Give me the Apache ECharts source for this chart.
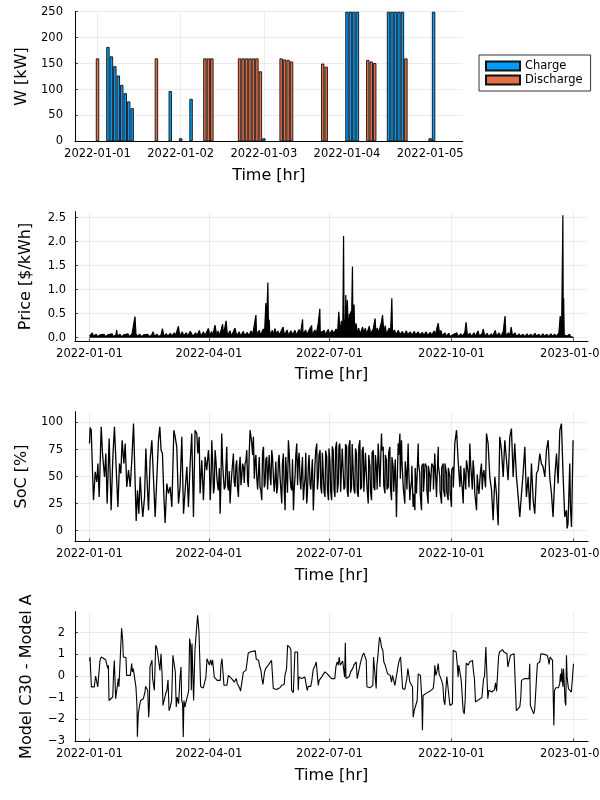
<!DOCTYPE html>
<html><head><meta charset="utf-8">
<script src="https://cdn.jsdelivr.net/npm/echarts@6/dist/echarts.min.js"></script>
<style>html,body{margin:0;padding:0;background:#fff}#c{width:600px;height:800px}</style>
</head><body><div id="c"></div>
<script>
// ---- tick labels ----
const dayTickLabels = ['2022-01-01','2022-01-02','2022-01-03','2022-01-04','2022-01-05'];
const dayTickHours = [0,24,48,72,96];
const yearTickLabels = ['2022-01-01','2022-04-01','2022-07-01','2022-10-01','2023-01-01'];
const yearTickDays = [0,90,181,273,365];
const wTicks = [0,50,100,150,200,250];
const priceTicks = [0,0.5,1,1.5,2,2.5];
const socTicks = [0,25,50,75,100];
const diffTicks = [-3,-2,-1,0,1,2];

// ---- series values: [hour since 2022-01-01, kW] ----
const chargeData = [[3,182],[4,164],[5,145],[6,127],[7,109],[8,93],[9,77],[10,64],[21,97],[24,6],[27,82],[48,6],
  [72,250],[73,250],[74,250],[75,250],[84,250],[85,250],[86,250],[87,250],[88,250],[96,6],[97,250]];
const dischargeData = [[0,160],[17,160],[31,160],[32,160],[33,160],[41,160],[42,160],[43,160],[44,160],[45,160],[46,160],[47,135],
  [53,160],[54,158],[55,157],[56,154],[65,150],[66,144],[78,157],[79,154],[80,151],[89,160]];

// ---- [day of year, $/kWh] ----
const priceData = [[0,0.03],[1,0.07],[2,0.1],[3,0.03],[5,0.07],[6,0.02],[8,0.06],[9,0.03],[11,0.07],[12,0.02],[14,0.06],[15,0.03],[17,0.08],[18,0.02],[20,0.06],[20.5,0.16],[21,0.03],[23,0.07],[24,0.02],[26,0.06],[27,0.03],[29,0.08],[30,0.02],[32,0.07],[33,0.04],[34.3,0.44],[35,0.08],[36,0.03],[38,0.07],[39,0.02],[41,0.06],[42,0.03],[44,0.07],[45,0.02],[47,0.06],[48,0.12],[49,0.03],[51,0.07],[52,0.02],[54,0.06],[55,0.19],[56,0.03],[58,0.08],[59,0.03],
[61,0.09],[62,0.03],[64,0.1],[65,0.04],[67,0.24],[68,0.03],[70,0.12],[71,0.04],[73,0.1],[74,0.03],[76,0.13],[77,0.15],[78,0.03],[80,0.1],[81,0.04],[82.8,0.15],[84,0.03],[86,0.12],[87,0.04],[89.6,0.19],[91,0.03],[92,0.13],[93,0.04],[94.6,0.26],[96,0.04],[97,0.14],[98,0.03],[100.4,0.28],[101,0.05],[103,0.35],[104,0.04],[106,0.14],[107,0.03],[109.7,0.2],[111,0.04],[113,0.12],[114,0.03],[116,0.13],[117,0.04],[119,0.11],[120,0.04],
[122,0.14],[123,0.05],[125.5,0.47],[126,0.06],[128,0.15],[129,0.05],[131,0.18],[132,0.1],[133,0.72],[133.5,0.2],[134.5,1.15],[135,0.15],[135.5,0.37],[136,0.06],[138,0.15],[139,0.05],[139.8,0.19],[141,0.06],[142,0.14],[143,0.05],[146,0.22],[147,0.05],[149,0.16],[150,0.05],[152,0.14],[153,0.06],[155,0.15],[156,0.05],[158,0.17],[159,0.06],[160.7,0.38],[161,0.07],[163,0.16],[164,0.06],[166,0.18],[167.5,0.25],[168,0.06],[170,0.16],[171,0.07],[172.5,0.3],[173.7,0.6],[174,0.1],[175,0.07],[177,0.15],[178,0.06],[180,0.17],
[181,0.07],[183,0.16],[184,0.08],[186,0.18],[187,0.07],[188,0.54],[189,0.1],[190,0.35],[191,0.08],[191.6,2.12],[192,0.1],[193,0.4],[193.3,0.89],[194,0.1],[194.5,0.78],[195,0.12],[196,0.5],[196.5,0.1],[197,0.55],[197.5,0.15],[198.3,1.48],[198.7,0.1],[199.5,0.69],[200,0.12],[201,0.3],[202,0.08],[203,0.2],[204,0.07],[206,0.22],[207,0.08],[208,0.2],[209,0.07],[211,0.24],[212,0.08],[214,0.18],[215.4,0.4],[216,0.08],[217,0.2],[218,0.1],[220,0.3],[221,0.47],[222,0.1],[223,0.25],[224,0.07],[226,0.2],[227,0.08],[228,0.82],[228.5,0.1],[230,0.16],[231,0.06],[233,0.15],[234,0.06],[236,0.13],[237,0.05],[239,0.14],[240,0.06],[242,0.12],[243,0.05],[245,0.13],[246,0.06],[248,0.12],[249,0.05],[251,0.11],[252,0.05],[254,0.12],[255,0.04],[257,0.11],[258,0.05],[260,0.14],[261,0.06],[262,0.2],[263,0.3],[264,0.08],[265,0.15],[266,0.04],[268,0.1],[269,0.03],[271,0.09],[272,0.02],
[274,0.06],[275,0.03],[277,0.1],[278,0.02],[280,0.08],[281,0.03],[283,0.1],[284,0.32],[285,0.04],[287,0.09],[288,0.02],[290,0.1],[291,0.03],[293,0.14],[294,0.03],[296,0.08],[297,0.18],[298,0.03],[300,0.09],[301,0.02],[303,0.08],[304,0.03],[306,0.15],[307,0.03],[309,0.1],[310,0.02],[312,0.12],[313.4,0.45],[314,0.04],[316,0.1],[317,0.03],[318,0.22],[319,0.04],[321,0.1],[322,0.02],[324,0.08],[325,0.03],[327,0.07],[328,0.02],[330,0.08],[331,0.03],[333,0.07],[334,0.02],[336,0.09],[337,0.03],[339,0.07],[340,0.02],[342,0.08],[343,0.03],[345,0.07],[346,0.02],[348,0.08],[349,0.03],[351,0.07],[352,0.02],[354,0.1],[355,0.45],[356,0.05],[357,2.55],[357.3,0.1],[357.6,0.82],[358,0.06],[359,0.08],[360,0.03],[362,0.07],[363,0.02],[364,0.05],[365,0.0]];

// ---- [day of year, SoC %] ----
const socData = [[0,80.6],[0.5,95.4],[1.3,92.9],[2.3,52.8],[3,28.1],[4.3,54.3],[5.5,45],[6.3,62],[7.3,31.2],[8.8,96],[9.8,71.3],[11.3,49.7],[12.3,71.3],[13.3,25],[14.8,85.2],[16.3,18.8],[17.6,68.2],[18.8,96],[20.4,49.7],[21.4,21.9],[22.6,62],[23.6,52.8],[24.6,83.6],[25.9,62],[26.9,80.6],[28.1,40.4],[29.4,55.9],[30.7,40.4],[31.9,65.1],[33.2,99],[33.9,97.5],[35.2,9],[36.2,37.3],[37.2,15.7],[38.2,49.7],[39.2,28.1],[40.2,12.7],[41.5,31.2],[42.5,75.9],[43.5,43.5],[44.5,18.8],[45.7,65.1],[47,83.6],[48.2,49.7],[49.5,12.7],[50.8,49.7],[52,83.6],[53,96],[54,74.4],[55,71.3],[56,34.3],[57,7],[58.3,43.5],[59.5,34.3],[60.8,40.4],[62.1,21.9],[63.6,92.9],[64.6,86.7],[65.8,77.5],[67.1,25],[68.3,40.4],[69.6,86.7],[70.9,15.7],[72.1,37.3],[73.4,59],[74.6,21.9],[75.9,62],[77.1,89.8],[78.4,12.7],[79.6,92.9],[80.9,89.8],[81.7,71.3],[82.7,86.7],[83.4,34.3],[84.7,65.1],[85.9,28.1],[87.2,68.2],[88.4,55.9],[89.7,74.4],[91,28.1],[92.2,83.6],[93.5,34.3],[94.7,74.4],[96,49.7],[97.2,37.3],[98.5,15.7],[99.7,89.8],[101,49.7],[102.3,40.4],[103.5,77.5],[104.8,37.3],[106,25],[107.3,52.8],[108.5,71.3],[109.8,40.4],[111,65.1],[112.3,31.2],[113.6,68.2],[114.8,49.7],[116.1,59],[117.3,62],[118.6,74.4],[119.8,40.4],[121.1,92.9],[122.4,80.6],[123.6,86.7],[124.9,65.1],[126.1,49.7],[127.4,52.8],[128.6,40.4],[129.9,28.1],[131.2,77.5],[132.4,43.5],[133.7,68.2],[134.9,55.9],[136.2,49.7],[137.4,74.4],[138.7,49.7],[139.9,46.6],[141.2,34.3],[142.5,65.1],[143.7,49.7],[145,25],[146.2,71.3],[147.5,18.8],[148.7,49.7],[150,83.6],[151.3,49.7],[152.5,37.3],[153.8,18.8],[155,49.7],[156.3,80.6],[157.5,65.1],[158.8,46.6],[160,55.9],[161.3,28.1],[162.6,49.7],[163.8,25],[165.1,62],[166.3,43.5],[167.6,55.9],[168.8,18.8],[170.1,62],[171.4,80.6],[172.6,49.7],[173.9,74.4],[175.1,34.3],[176.4,71.3],[177.6,31.2],[178.9,68.2],[180.2,28.1],
[181.3,65.1],[182.6,28.1],[183.8,74.4],[185.1,31.2],[186.3,82.1],[187.6,43.5],[188.8,80.6],[190.1,37.3],[191.4,74.4],[192.6,40.4],[193.9,77.5],[195.1,31.2],[196.4,83.6],[197.6,40.4],[198.9,80.6],[200.1,34.3],[201.4,71.3],[202.7,31.2],[203.9,83.6],[205.2,40.4],[206.4,77.5],[207.7,34.3],[208.9,49.7],[210.2,25],[211.5,59],[212.7,28.1],[214,74.4],[215.2,37.3],[216.5,55.9],[217.7,80.6],[219,40.4],[220.2,89.8],[221.5,77.5],[222.8,34.3],[224,65.1],[225.3,40.4],[226.5,77.5],[227.8,28.1],[229,59],[230.3,34.3],[231.5,12.7],[232.8,80.6],[234.1,89.8],[235.3,83.6],[236.6,40.4],[237.8,25],[239.1,49.7],[240.3,80.6],[241.6,28.1],[242.9,46.6],[244.1,21.9],[245.4,18.8],[246.6,34.3],[247.9,80.6],[249.1,52.8],[250.4,18.8],[251.7,62],[252.9,34.3],[254.2,59],[255.4,25],[256.7,49.7],[257.9,34.3],[259.2,59],[260.4,71.3],[261.7,31.2],[263,77.5],[264.2,49.7],[265.5,25],[266.7,62],[268,31.2],[269.2,52.8],[270.5,28.1],[271.8,49.7],[273,21.9],[274.3,59],[275.5,80.6],[276.8,92.9],[278,65.1],[279.3,40.4],[280.5,46.6],[281.8,25],[283.1,49.7],[284.3,65.1],[285.6,52.8],[286.8,80.6],[288.1,49.7],[289.3,65.1],[290.6,34.3],[291.9,18.8],[293.1,40.4],[294.4,46.6],[295.6,62],[296.9,52.8],[298.1,55.9],[299.4,89.8],[300.6,80.6],[301.9,49.7],[303.2,37.3],[304.4,9.6],[305.7,49.7],[306.9,34.3],[308.2,4.9],[309.4,86.7],[310.7,74.4],[312,49.7],[313.2,83.6],[314.5,65.1],[315.7,46.6],[317,86.7],[318.2,94.4],[319.5,49.7],[320.7,80.6],[322,49.7],[323.3,31.2],[324.5,12.7],[325.8,34.3],[327,52.8],[328.3,77.5],[329.5,31.2],[330.8,49.7],[332.1,18.8],[333.3,62],[334.6,28.1],[335.8,15.7],[337.1,52.8],[338.3,55.9],[339.6,71.3],[340.8,62],[342.1,59],[343.4,49.7],[344.6,74.4],[345.9,83.6],[347.1,49.7],[348.4,34.3],[349.6,12.7],[350.9,49.7],[352.2,71.3],[353.4,43.5],[354.7,92.9],[355.9,99],[357.2,49.7],[358.4,12.7],[359.7,18.8],[360.2,2],[360.9,6.5],[362.2,62],[362.7,21.9],[363.5,3.4],[364.7,83.6]];
// additional readings of the dense hourly band (spring-summer)
const socDense = [[90.4,60],[91.6,45],[92.9,62],[94.1,40],[95.4,64],[96.6,42],[97.9,58],[99.1,44],[100.4,62],[101.6,38],[102.9,60],[104.1,42],[105.4,55],[106.6,40],[107.9,62],[109.1,45],[110.4,60],[111.6,40],[112.9,58],[114.2,42],[115.4,62],[116.7,44],[117.9,64],[119.2,46],[120.4,70],[123,70],[124.3,48],
[125.5,70],[126.8,38],[128,68],[129.3,36],[130.5,72],[131.8,40],[133,66],[134.3,38],[135.5,70],[136.8,42],[138,68],[139.3,36],[140.5,64],[141.8,40],[143,70],[144.3,38],[145.5,62],[146.8,40],[148,68],[149.3,35],[150.6,72],[151.9,40],[153.1,66],[154.4,38],[155.6,70],[156.9,42],[158.1,72],[159.4,38],[160.6,68],[161.9,40],[163.1,72],[164.4,36],[165.6,70],[166.9,38],[168.1,66],[169.4,40],[170.6,74],[171.9,38],[173.1,70],[174.4,40],[175.6,72],[176.9,36],[178.1,74],[179.4,38],[180.6,76],[181.9,36],[183.1,78],[184.4,38],[185.6,76],[186.9,35],[188.1,78],[189.4,36],[190.6,76],[191.9,38],[193.1,80],[194.4,36],[195.6,78],[196.9,35],[198.1,80],[199.4,38],[200.6,76],[201.9,36],[203.1,78],[204.4,38],[205.6,74],[206.9,36],[208.1,72],[209.4,38],[210.6,70],[211.9,36],[213.1,72],[214.4,40],[215.6,70],[216.9,38],[218.1,72],[219.4,40],[220.6,74],[221.9,42],[223.1,70],[224.4,38],[225.6,72],[226.9,40],[228.1,68],[229.4,36],[230.6,66],[231.9,38],[233.1,70],[234.4,48],[235.6,66],[236.9,36],[238.1,64],[239.4,38],[240.6,62],[241.9,36],[243.1,60],[244.4,34],[245.6,58],[246.9,36],[248.1,62],[249.4,34],[250.6,60],[251.9,36],[253.1,62],[254.4,38],[255.6,60],[256.9,36],[258.1,62],[259.4,38],[260.6,64],[261.9,40],[263.1,60],[264.4,36],[265.6,58],[266.9,38],[268.1,62],[269.4,36],[270.6,58],[271.9,36],[273.1,56],[274.4,40],
[279.9,60],[281.2,38],[282.4,58],[283.7,38],[284.9,60],[286.2,40],[287.4,62],[288.7,38],[289.9,56],[291.2,36],[292.4,52],[293.7,34],[294.9,55],[296.2,38],[297.4,56],[298.7,40]];

// ---- [day of year, Model C30 - Model A] ----
const diffData = [[0,0.7],[0.4,0.88],[0.9,0.88],[1.4,-0.5],[3.6,-0.5],[4.6,0],[5.4,-0.05],[6.2,-0.5],[7.4,-0.5],[7.9,0.72],[8.9,0.88],[10.4,0.8],[12.2,0.75],[13.2,0.72],[13.7,0.35],[14.2,0.5],[14.7,-1.13],[16.2,-1.05],[17.5,-0.97],[18.2,0.2],[18.7,0.72],[19.2,-0.12],[19.7,-1.05],[20.7,-1.0],[21.2,-1.05],[21.7,-0.12],[22.2,-0.5],[22.7,0.2],[23.5,0.2],[24.2,2.2],[25,1.65],[25.5,0.88],[26.5,0.85],[27.5,0.85],[28,0.03],[29.3,0],[30.8,0.03],[31.8,0.57],[32.3,0.19],[33,0.34],[33.8,0.26],[34.3,-0.2],[35,-0.5],[35.8,-1.4],[36.1,-2.8],[36.8,-1.75],[37.6,-1.43],[38.6,-1.13],[39.3,-1.05],[40.6,-1.05],[41.8,-0.75],[42.3,-0.48],[43,-0.48],[43.9,-0.66],[44.6,-1.9],[45.1,-1.43],[45.6,0.42],[46.4,0.5],[47.1,0.73],[47.6,-0.12],[48.1,-0.12],[48.9,-0.66],[49.9,1.42],[50.9,1.27],[51.9,1.19],[53.1,0.26],[53.9,1.03],[54.7,0.1],[55.4,-1.36],[56.4,-1.28],[57.4,-0.82],[58.4,-0.66],[59.2,-0.17],[60,-1.6],[60.9,-1.43],[61.9,-1.13],[62.9,0.96],[63.9,1.03],[64.7,0.19],[65.4,-1.43],[66.2,-0.97],[67.2,-1.28],[68.2,-0.12],[69,0.42],[69.5,-1.13],[70.2,-1.28],[70.7,-2.82],[71.2,-1.13],[72,-1.43],[73,-1.13],[74,-0.9],[74.8,-0.66],[75.5,1.73],[76.3,1.34],[76.8,-0.66],[77.3,1.5],[77.8,1.57],[78.5,-1.13],[79.5,1.19],[80.5,1.19],[81.5,2.8],[82.5,2.11],[83.3,2.19],[83.8,-0.5],[85.8,-0.55],[87,-0.48],[87.8,-0.05],[88.6,0.8],[89.6,0.72],[90.4,0.5],[91.3,0.75],[92.1,0.5],[92.8,0.75],[93.3,0.75],[94.1,-0.05],[94.6,-0.12],[95.4,-0.12],[96.3,-0.2],[97.1,-0.28],[97.8,-0.23],[98.6,-0.2],[99.1,0.5],[99.9,0.8],[100.6,0.72],[101.4,-0.43],[102.6,-0.48],[103.6,-0.43],[104.7,0.03],[105.4,0.1],[106.2,-0.05],[107.2,-0.12],[108.2,-0.2],[109.2,-0.28],[109.9,-0.2],[110.7,-0.12],[111.4,-0.35],[112.2,-0.43],[113.2,-0.55],[113.9,-0.7],[114.7,-0.7],[115.5,-0.05],[116,0.18],[116.7,0.26],[118,0.26],[118.7,0.57],[119.7,1.06],[121,1.11],[122.2,1.13],[123.7,1.16],[125,1.16],[125.8,0.77],[126.8,0.73],[127.5,0.73],[128.3,0.45],[129.3,0.26],[130,-0.12],[130.8,-0.39],[131.3,-0.39],[132,0.19],[132.8,0.34],[133.5,0.42],[134.8,0.5],[136,0.57],[137.3,0.72],[138,0.72],[138.6,-0.58],[139.8,-0.62],[141,-0.62],[142.3,-0.55],[143.6,-0.54],[144.9,-0.43],[145.8,-0.35],[146.8,-0.39],[147.4,0.03],[148.1,0.03],[148.6,0.34],[149.4,1.42],[150.4,1.34],[151.1,1.31],[151.9,1.19],[152.4,-0.66],[153.7,-0.77],[154.2,-0.74],[154.9,1.11],[156.2,1.03],[156.9,1.11],[157.4,-0.66],[157.9,-0.05],[158.7,-0.08],[159.9,-0.12],[161.2,-0.12],[162.4,-0.05],[163.4,-0.12],[164.2,-0.66],[165,-0.48],[166,-0.43],[166.8,-0.48],[167.5,-0.28],[168,-0.23],[168.7,0.29],[169.5,0.29],[170.2,0.5],[171,0.65],[171.7,0.57],[172.5,-0.43],[173.2,-0.2],[174.2,-0.12],[175,-0.05],[176.3,-0.02],[177.5,0.19],[178.3,0.19],[179.3,0.1],[180.6,0.08],
[182.5,-0.12],[183.8,-0.2],[185,-0.12],[185.8,0.42],[186.8,0.65],[187.6,0.5],[188.3,0.88],[189.1,0.5],[190.1,0.57],[190.9,0.69],[191.6,0.34],[192.4,-0.05],[192.9,1.53],[193.4,-0.12],[193.9,-0.2],[194.9,-0.12],[195.9,-0.02],[196.9,0.19],[197.6,0.19],[198.4,0.34],[199.4,0.5],[200.4,0.57],[201.1,0.65],[201.9,-0.12],[202.6,-0.05],[203.4,-0.05],[204.2,0.57],[204.9,0.65],[205.9,0.96],[206.9,1.06],[207.9,1.03],[208.7,0.73],[209.2,-0.5],[210.4,-0.54],[211.7,-0.54],[212.9,-0.48],[213.7,-0.43],[214.2,0.88],[215.2,0.88],[215.7,-0.2],[216.2,-0.58],[216.7,0.5],[217.2,0.72],[218,0.65],[218.7,1.8],[219.5,1.62],[220.2,1.34],[221.2,1.19],[222,0.65],[223,0.5],[224,0.45],[224.8,0.1],[225.8,0.03],[226.8,0.03],[227.8,-0.28],[228.5,0.03],[229.5,-0.05],[230.3,-0.43],[231,-0.5],[232,0.19],[232.8,0.5],[233.6,0.72],[234.6,0.88],[235.6,0.88],[236.1,-0.58],[236.8,-0.62],[237.8,-0.62],[238.6,-0.58],[239.3,-0.12],[240.1,0.34],[240.8,0.38],[241.6,-0.28],[242.6,-0.28],[243.6,-0.5],[244.1,-1.9],[244.9,-1.6],[245.6,-1.67],[246.4,-1.28],[247.1,-1.13],[247.9,0.1],[248.6,0.1],[249.6,0.03],[250.6,-1.05],[251.1,-2.5],[251.6,-0.9],[252.9,-0.85],[254.1,-0.79],[255.4,-0.74],[256.7,-0.7],[257.9,-0.66],[259.2,-0.58],[259.9,-0.2],[260.4,0.5],[261.2,0.03],[262,0.19],[263,0.57],[263.7,0.1],[264.5,0.03],[265.5,-0.2],[266.5,-0.43],[267.2,-1.13],[268,-1.33],[268.7,-0.66],[269.5,-0.02],[270.7,-0.02],[271.8,-1.36],[272.8,-1.36],[273.7,-1.28],[274.3,1.19],[275.3,1.16],[276.5,1.11],[277.5,0.42],[278,-0.05],[278.5,0.5],[279.3,0.42],[280.3,-0.17],[281,-0.2],[281.8,-1.6],[282.6,-1.75],[283.3,-1.13],[284.1,0.6],[284.8,0.6],[285.6,0.5],[286.6,0.65],[287.8,0.65],[288.8,0.72],[289.6,0.19],[290.3,-0.12],[291.1,-1.2],[292.1,-1.13],[293.4,-1.1],[294.6,-1.05],[295.9,-1.0],[296.6,-0.94],[297.2,-0.12],[297.9,-0.02],[298.9,1.34],[299.9,1.27],[300.4,-1.05],[301.2,-0.66],[302.2,-0.7],[303.4,-0.74],[304.4,-0.66],[305.4,-0.63],[306.2,-0.32],[307,-0.7],[307.7,-0.66],[308.5,0.88],[309.2,1.11],[310.2,1.19],[311.5,1.22],[312.5,1.11],[313.8,1.06],[314.8,1.03],[315.5,0.42],[316.5,0.34],[317.5,0.96],[319,0.96],[320.2,1.03],[321.2,0.96],[321.9,-1.6],[323.2,-1.62],[324.5,-1.43],[325.3,-0.97],[325.8,-0.2],[326.5,-0.12],[327.8,-0.12],[329.5,-0.12],[330.8,-0.05],[331.5,-0.12],[332,0.57],[332.5,-1.36],[333.3,-1.36],[334,-1.6],[335,-1.75],[335.8,-1.51],[336.6,-1.51],[337.1,-0.12],[337.8,0.57],[338.6,0.65],[339.6,0.65],[340.4,1.03],[341.6,1.03],[342.9,1.0],[344.1,0.96],[345.1,0.96],[346.1,0.75],[346.6,0.54],[347.4,0.88],[348.4,0.88],[349.2,0.72],[349.7,-0.9],[350.2,-2.28],[350.7,-0.66],[351.7,-0.54],[352.7,-0.5],[353.7,-0.54],[354.6,-0.35],[355.2,0.1],[355.7,-0.28],[356.2,0.34],[357,-0.5],[357.5,0.34],[358.2,-0.58],[358.7,-1.2],[359.2,-1.36],[359.7,0.96],[360.2,-0.05],[361.2,-0.58],[362.2,-0.66],[363.4,-0.74],[364.2,-0.66],[365,0.57]];

const FONT = 'DejaVu Sans';
const tops = [11.7, 211.6, 411.7, 611.7];
const H = 129.7;
const socAll = socData.concat(socDense).sort((a, b) => a[0] - b[0]);

function lookup(ticks, labels, v) {
  for (let i = 0; i < ticks.length; i++) if (Math.abs(ticks[i] - v) < 1e-6) return labels[i];
  return '';
}
function fmtNum(v, d) {
  const s = d ? Math.abs(v).toFixed(d) : String(Math.abs(v));
  return (v < 0 ? '\u2212' : '') + s;
}
const gridLine = { show: true, lineStyle: { color: 'rgba(0,0,0,0.1)', width: 0.7 } };
const axisLine = { show: true, onZero: false, lineStyle: { color: '#000', width: 1 } };
const nameStyle = { fontFamily: FONT, fontSize: 16, color: '#000' };
const labelStyle = { fontFamily: FONT, fontSize: 11.5, color: '#000' };

function xAx(i, min, max, ticks, labels) {
  return {
    type: 'value', gridIndex: i, min: min, max: max,
    name: 'Time [hr]', nameLocation: 'middle', nameGap: 26, nameTextStyle: nameStyle,
    axisLine: axisLine,
    axisTick: { show: true, inside: true, length: 3, customValues: ticks, lineStyle: { color: '#000', width: 0.7 } },
    axisLabel: Object.assign({ customValues: ticks, margin: 7, formatter: v => lookup(ticks, labels, v) }, labelStyle),
    splitLine: gridLine
  };
}
function yAx(i, min, max, ticks, name, gap, fmt, margin) {
  return {
    type: 'value', gridIndex: i, min: min, max: max,
    name: name, nameLocation: 'middle', nameGap: gap, nameTextStyle: nameStyle,
    axisLine: axisLine,
    axisTick: { show: true, inside: true, length: 3, customValues: ticks, lineStyle: { color: '#000', width: 0.7 } },
    axisLabel: Object.assign({ customValues: ticks, margin: margin, formatter: fmt }, labelStyle),
    splitLine: gridLine
  };
}

const chart = echarts.init(document.getElementById('c'), null, { renderer: 'canvas' });
chart.setOption({
  animation: false,
  backgroundColor: '#fff',
  grid: [
    { left: 75, width: 387.7, top: tops[0], height: H, outerBoundsMode: 'none', containLabel: false },
    { left: 75, width: 513, top: tops[1], height: H, outerBoundsMode: 'none', containLabel: false },
    { left: 75, width: 513, top: tops[2], height: H, outerBoundsMode: 'none', containLabel: false },
    { left: 75, width: 513, top: tops[3], height: H, outerBoundsMode: 'none', containLabel: false }
  ],
  legend: {
    data: ['Charge', 'Discharge'], orient: 'vertical', left: 479, top: 55,
    itemWidth: 34, itemHeight: 9, itemGap: 2, padding: [5, 8, 5, 6],
    borderColor: '#333', borderWidth: 1, backgroundColor: '#fff', borderRadius: 0,
    icon: 'rect', textStyle: { fontFamily: FONT, fontSize: 11.5, color: '#000' }
  },
  xAxis: [
    xAx(0, -6.5, 105.4, dayTickHours, dayTickLabels),
    xAx(1, -10.95, 375.95, yearTickDays, yearTickLabels),
    xAx(2, -10.95, 375.95, yearTickDays, yearTickLabels),
    xAx(3, -10.95, 375.95, yearTickDays, yearTickLabels)
  ],
  yAxis: [
    yAx(0, 0, 250, wTicks, 'W [kW]', 45, v => fmtNum(v, 0), 12),
    yAx(1, -0.0765, 2.6265, priceTicks, 'Price [$/kWh]', 41, v => fmtNum(v, 1), 9),
    yAx(2, -10, 110, socTicks, 'SoC [%]', 43, v => fmtNum(v, 0), 12),
    yAx(3, -3.02, 2.97, diffTicks, 'Model C30 - Model A', 40, v => fmtNum(v, 0), 10)
  ],
  series: [
    { name: 'Charge', type: 'bar', xAxisIndex: 0, yAxisIndex: 0, data: chargeData, barWidth: 3.4, barGap: '-100%',
      itemStyle: { color: '#009AFA', borderColor: '#111', borderWidth: 0.9 } },
    { name: 'Discharge', type: 'bar', xAxisIndex: 0, yAxisIndex: 0, data: dischargeData, barWidth: 3.4, barGap: '-100%',
      itemStyle: { color: '#E36F47', borderColor: '#111', borderWidth: 0.9 } },
    { name: 'Price', type: 'line', xAxisIndex: 1, yAxisIndex: 1, data: priceData, showSymbol: false, symbol: 'none',
      lineStyle: { color: '#000', width: 1.2 }, areaStyle: { color: '#000', opacity: 1, origin: 0 } },
    { name: 'SoC', type: 'line', xAxisIndex: 2, yAxisIndex: 2, data: socAll, showSymbol: false, symbol: 'none',
      lineStyle: { color: '#000', width: 1.3 } },
    { name: 'Diff', type: 'line', xAxisIndex: 3, yAxisIndex: 3, data: diffData, showSymbol: false, symbol: 'none',
      lineStyle: { color: '#000', width: 1.1 } }
  ]
});
</script>
</body></html>
